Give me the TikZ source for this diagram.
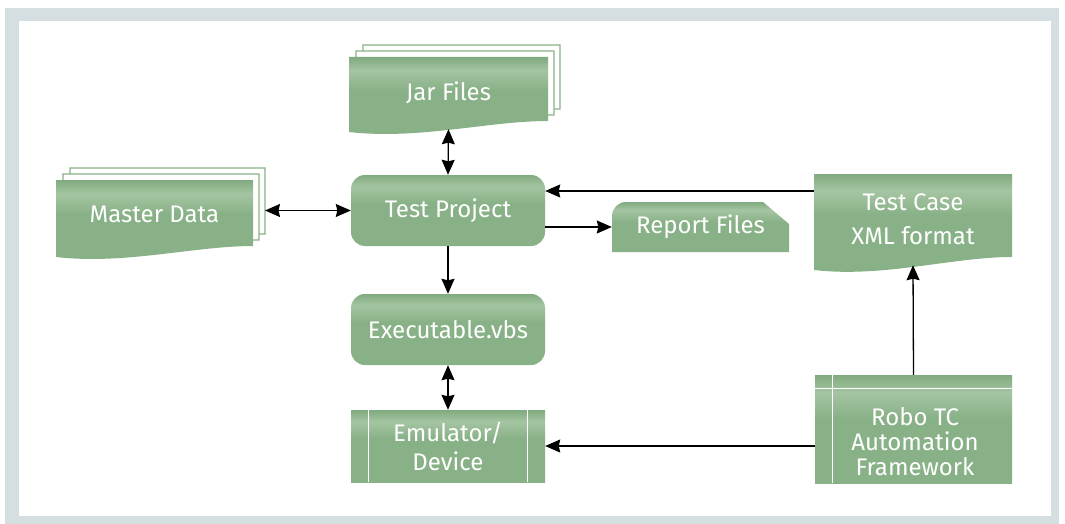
\documentclass[tikz,border=0pt]{standalone}
\usepackage{fontspec}
\setmainfont{Fira Sans}
\usetikzlibrary{arrows.meta}

\definecolor{boxgreen}{RGB}{136,177,135}
\definecolor{boxgreenlt}{RGB}{165,197,162}
\definecolor{boxgreendk}{RGB}{128,170,127}
\definecolor{framegray}{RGB}{213,222,224}
\pgfdeclareverticalshading{greenband}{100bp}{color(0bp)=(boxgreen); color(25bp)=(boxgreen); color(55bp)=(boxgreen); color(67bp)=(boxgreenlt); color(75bp)=(boxgreendk); color(100bp)=(boxgreendk)}

% one document sheet: style, left, top, right, bottom left, bottom right
\newcommand{\docsheet}[6]{\path[#1] ({#2},{#3}) -- ({#4},{#3}) -- ({#4},{#6}) .. controls ({(#4)-0.3*((#4)-(#2))},{#6}) and ({(#2)+0.35*((#4)-(#2))},{(#5)+8}) .. ({#2},{#5}) -- cycle;}
% a stack: two outlined sheets behind the shaded one
\newcommand{\docstack}[5]{%
  \foreach \s in {2,1} {\docsheet{sheet}{#1+7*\s}{#2-6*\s}{#3+6*\s}{#4-6*\s}{#5-6*\s}}
  \docsheet{docfill}{#1}{#2}{#3}{#4}{#5}}

\tikzset{
  lbl/.style={text=white, font=\fontsize{24}{27}\selectfont, align=center},
  docfill/.style={shade, shading=greenband},
  sheet/.style={fill=white, draw=boxgreen, line width=1.2pt},
  procbox/.style={lbl, shade, shading=greenband, rounded corners=14pt, minimum width=194pt, minimum height=71pt, inner sep=0pt},
  framebox/.style={lbl, shade, shading=greenband, minimum width=194pt, inner sep=0pt},
  split/.style={white, line width=1.3pt},
}

\begin{document}
\begin{tikzpicture}[x=1pt,y=-1pt,
    >={Stealth[length=15pt,width=13pt,inset=1.5pt]},
    link/.style={->, line width=1.3pt},
    twoway/.style={<->, line width=1.3pt}]
  \useasboundingbox (0,0) rectangle (1065,524);
  %frame
  \fill[framegray] (5,8) rectangle (1059,524);
  \fill[white] (19,21) rectangle (1051,516);

  %sheets
  \docstack{349}{57}{548}{132}{121}
  \docstack{56}{180}{253}{257}{246}
  \docsheet{docfill}{814}{174}{1012}{270}{257}
  % report card, clipped corner top right
  \path[docfill] (612,252) -- (612,216) arc[start angle=180,end angle=270,radius=14]
    -- (763,202) -- (789,224) -- (789,252) -- cycle;

  %boxes
  \node[procbox] (proj) at (448,210.5) {Test Project};
  \node[procbox] (exe) at (448,329.5) {Executable.vbs};
  \node[framebox, minimum height=72pt] (emu) at (448,446) {Emulator/\\[2pt]Device};
  \node[framebox, minimum width=197pt, minimum height=108pt] (robo) at (913.5,429) {};
  \draw[split] ([xshift=18pt]emu.north west) -- ([xshift=18pt]emu.south west);
  \draw[split] ([xshift=-18pt]emu.north east) -- ([xshift=-18pt]emu.south east);
  \draw[split] ([xshift=18pt]robo.north west) -- ([xshift=18pt]robo.south west);
  \draw[split] ([yshift=-14pt]robo.north west) -- ([yshift=-14pt]robo.north east);
  \node[lbl, font=\fontsize{24}{25}\selectfont] (robotxt) at (915,442) {Robo TC\\Automation\\Framework};

  %labels on the sheets
  \node[lbl, minimum width=199pt, minimum height=72pt] (jar) at (448.5,93) {Jar Files};
  \node[lbl, minimum width=197pt, minimum height=66pt] (master) at (154.5,214) {Master Data};
  \node[lbl, minimum width=198pt, minimum height=91pt] (tcase) at (913,219.5) {Test Case\\[7pt]XML format};
  \node[lbl, minimum width=177pt, minimum height=50pt] (rep) at (700.5,227) {Report Files};

  %connectors
  \coordinate (mstack) at (265,210.5);
  \coordinate (tcin) at ([yshift=28.5pt]tcase.west);
  \draw[twoway] (jar.south) -- (proj.north);
  \draw[twoway] (mstack) -- (proj.west);
  \draw[link] (proj.east |- rep.west) -- (rep.west);
  \draw[link] (tcin) -- (tcin -| proj.east);
  \draw[link] (proj) -- (exe);
  \draw[twoway] (exe) -- (emu);
  \draw[link] (robo.west |- emu.east) -- (emu.east);
  \draw[link] (robo.north) -- (tcase.south);
\end{tikzpicture}
\end{document}
